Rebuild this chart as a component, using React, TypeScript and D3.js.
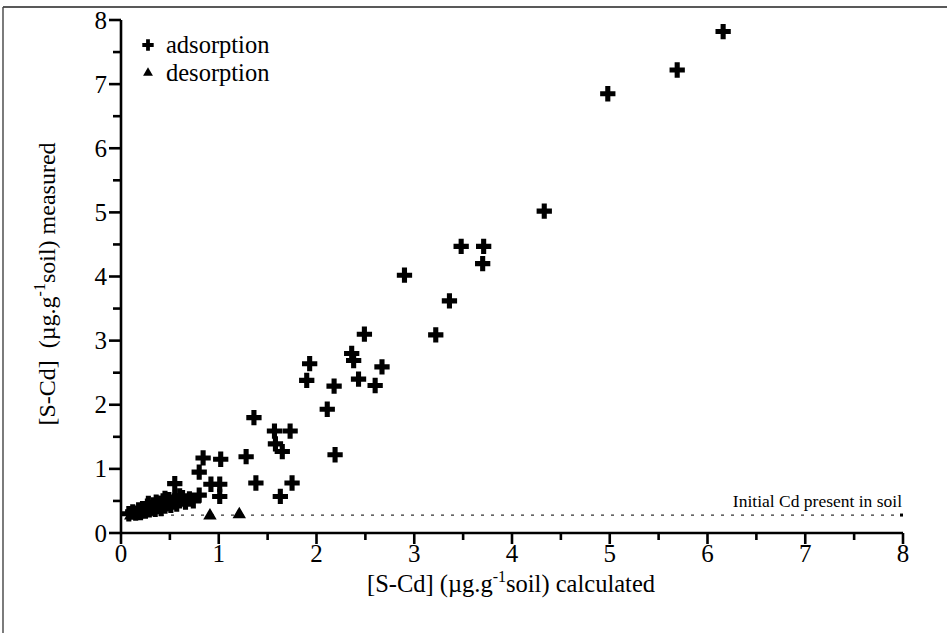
import React from 'react';
import * as d3 from 'd3';

// Tick values on both axes
const xTickValues = [0, 1, 2, 3, 4, 5, 6, 7, 8];
const yTickValues = [0, 1, 2, 3, 4, 5, 6, 7, 8];

// Adsorption experiments: calculated vs measured S-Cd (µg/g soil)
const adsorptionCalc = [
  6.16, 5.69, 4.98, 4.33, 3.48, 3.71, 3.70, 2.90, 3.36, 3.22,
  2.49, 2.36, 2.38, 2.67, 1.93, 1.90, 2.18, 2.43, 2.60, 2.11,
  1.36, 1.57, 1.73, 1.58, 1.65, 2.19, 1.38, 1.75, 1.63, 0.84,
  1.02, 1.28, 0.80, 0.92, 1.01, 0.80, 1.01, 0.55,
  0.08, 0.12, 0.15, 0.18, 0.20, 0.22, 0.25, 0.27, 0.29, 0.31,
  0.33, 0.35, 0.37, 0.39, 0.41, 0.43, 0.45, 0.47, 0.49, 0.51,
  0.53, 0.55, 0.57, 0.60, 0.63, 0.66, 0.70, 0.74, 0.28, 0.45,
  0.36, 0.60,
];
const adsorptionMeas = [
  7.82, 7.22, 6.85, 5.02, 4.47, 4.47, 4.20, 4.02, 3.62, 3.09,
  3.10, 2.80, 2.69, 2.59, 2.64, 2.38, 2.29, 2.40, 2.30, 1.93,
  1.80, 1.59, 1.59, 1.39, 1.27, 1.22, 0.78, 0.78, 0.57, 1.17,
  1.15, 1.19, 0.95, 0.76, 0.76, 0.59, 0.57, 0.77,
  0.30, 0.33, 0.31, 0.36, 0.32, 0.38, 0.34, 0.42, 0.36, 0.39,
  0.44, 0.37, 0.41, 0.46, 0.38, 0.50, 0.42, 0.46, 0.52, 0.43,
  0.48, 0.54, 0.45, 0.50, 0.55, 0.48, 0.53, 0.50, 0.46, 0.54,
  0.48, 0.58,
];

// Desorption experiments
const desorptionCalc = [0.10, 0.17, 0.91, 1.21];
const desorptionMeas = [0.27, 0.29, 0.27, 0.29];

// Cd initially present in the soil
const initialCd = 0.28;

const W = 947;
const H = 633;
const font = '"Liberation Serif", "Times New Roman", serif';

export default function App() {
  const x = d3.scaleLinear().domain([0, 8]).range([121, 903]);
  const y = d3.scaleLinear().domain([0, 8]).range([533, 20]);

  const cross = d3.symbol(d3.symbolCross, 130)() as string;
  const tri = d3.symbol(d3.symbolTriangle, 78)() as string;
  const crossSmall = d3.symbol(d3.symbolCross, 72)() as string;
  const triSmall = d3.symbol(d3.symbolTriangle, 42)() as string;

  const minor = d3.range(0.5, 8, 1);
  const yInit = y(initialCd);

  return (
    <svg
      width={W}
      height={H}
      viewBox={`0 0 ${W} ${H}`}
      style={{ position: 'absolute', left: 0, top: 0, background: '#fff' }}
      fontFamily={font}
    >
      <rect x={0} y={0} width={W} height={H} fill="#fff" />
      {/* frame */}
      <line x1={3} y1={7} x2={W} y2={7} stroke="#222" strokeWidth={1.6} />
      <line x1={3} y1={7} x2={3} y2={H} stroke="#444" strokeWidth={1.4} />

      {/* initial Cd reference line */}
      <line
        x1={x(0)}
        x2={x(8) - 2}
        y1={yInit}
        y2={yInit}
        stroke="#333"
        strokeWidth={1.2}
        strokeDasharray="3 7"
      />
      <rect x={x(8) - 3} y={yInit - 1.5} width={3} height={3} fill="#000" />
      <text x={x(8) - 1} y={yInit - 8} textAnchor="end" fontSize={17.5} fill="#000">
        Initial Cd present in soil
      </text>

      {/* axes */}
      <line x1={x(0)} x2={x(8)} y1={y(0)} y2={y(0)} stroke="#000" strokeWidth={2.6} />
      <line x1={x(0)} x2={x(0)} y1={y(0)} y2={y(8)} stroke="#000" strokeWidth={2.6} />
      {xTickValues.map((t) => (
        <g key={'xt' + t}>
          <line x1={x(t)} x2={x(t)} y1={y(0)} y2={y(0) + 11} stroke="#000" strokeWidth={2.6} />
          <text x={x(t)} y={y(0) + 29} textAnchor="middle" fontSize={25} fill="#000">
            {t}
          </text>
        </g>
      ))}
      {minor.map((t) => (
        <line key={'xm' + t} x1={x(t)} x2={x(t)} y1={y(0)} y2={y(0) + 7} stroke="#000" strokeWidth={2.6} />
      ))}
      {yTickValues.map((t) => (
        <g key={'yt' + t}>
          <line x1={x(0) - 12} x2={x(0)} y1={y(t)} y2={y(t)} stroke="#000" strokeWidth={2.6} />
          <text x={x(0) - 14} y={y(t)} dy="0.34em" textAnchor="end" fontSize={25} fill="#000">
            {t}
          </text>
        </g>
      ))}
      {minor.map((t) => (
        <line key={'ym' + t} x1={x(0) - 8} x2={x(0)} y1={y(t)} y2={y(t)} stroke="#000" strokeWidth={2.6} />
      ))}

      {/* axis titles */}
      <text x={511} y={592} textAnchor="middle" fontSize={24.5} fill="#000">
        [S-Cd] (µg.g<tspan dy={-10} fontSize={16}>-1</tspan>
        <tspan dy={10}>soil) calculated</tspan>
      </text>
      <text
        transform="translate(55, 284) rotate(-90)"
        textAnchor="middle"
        fontSize={24}
        fill="#000"
        xmlSpace="preserve"
      >
        [S-Cd]  (µg.g<tspan dy={-10} fontSize={16}>-1</tspan>
        <tspan dy={10}>soil) measured</tspan>
      </text>

      {/* data */}
      {adsorptionCalc.map((c, i) => (
        <path key={'a' + i} d={cross} transform={`translate(${x(c)},${y(adsorptionMeas[i])})`} fill="#000" />
      ))}
      {desorptionCalc.map((c, i) => (
        <path key={'d' + i} d={tri} transform={`translate(${x(c)},${y(desorptionMeas[i])})`} fill="#000" />
      ))}

      {/* legend */}
      <path d={crossSmall} transform="translate(148,45)" fill="#000" />
      <text x={166} y={53} fontSize={24.5} fill="#000">adsorption</text>
      <path d={triSmall} transform="translate(148,73)" fill="#000" />
      <text x={166} y={81} fontSize={24.5} fill="#000">desorption</text>
    </svg>
  );
}
